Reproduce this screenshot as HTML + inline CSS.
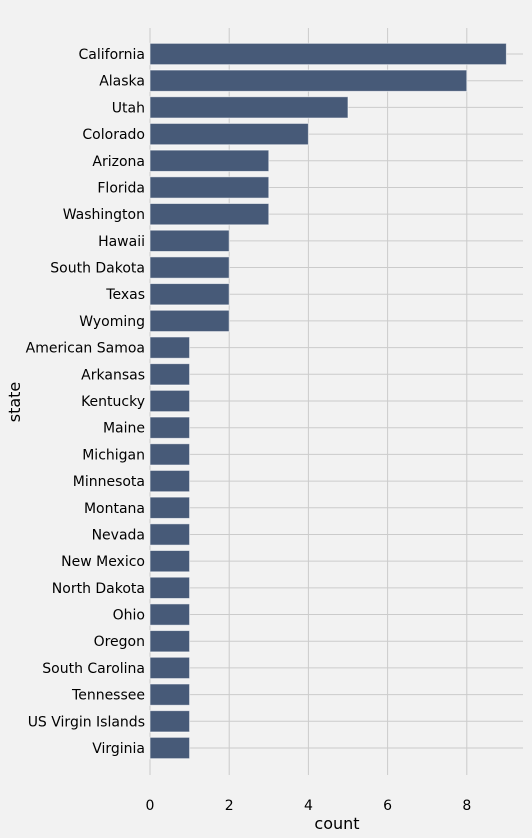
<!DOCTYPE html>
<html><head><meta charset="utf-8"><style>
body{margin:0;background:#f2f2f2;}
svg{display:block;font-family:"DejaVu Sans","Liberation Sans",sans-serif;}
</style></head><body>
<svg id="chart" width="532" height="838" viewBox="0 0 532 838" xmlns="http://www.w3.org/2000/svg">
<rect x="0" y="0" width="532" height="838" fill="#f2f2f2"/>
<g id="grid"></g><g id="bars"></g><g id="ylabels"></g><g id="xlabels"></g>
<text x="337" y="829" font-size="16" text-anchor="middle" fill="#000">count</text>
<text x="20" y="402" font-size="16" text-anchor="middle" fill="#000" transform="rotate(-90 20 402)">state</text>
</svg>
<script>
const categories=["California","Alaska","Utah","Colorado","Arizona","Florida","Washington","Hawaii","South Dakota","Texas","Wyoming","American Samoa","Arkansas","Kentucky","Maine","Michigan","Minnesota","Montana","Nevada","New Mexico","North Dakota","Ohio","Oregon","South Carolina","Tennessee","US Virgin Islands","Virginia"];
const counts=[9,8,5,4,3,3,3,2,2,2,2,1,1,1,1,1,1,1,1,1,1,1,1,1,1,1,1];
const xTicks=[0,2,4,6,8];
const NS="http://www.w3.org/2000/svg";
const x0=150,pxPer=39.6,plotL=150,plotR=523,plotT=28,plotB=775;
const yFirst=54,yLast=748;
const step=(yLast-yFirst)/(categories.length-1);
const xs=v=>x0+v*pxPer;
const ys=i=>yFirst+i*step;
function mk(t,a){const e=document.createElementNS(NS,t);for(const k in a)e.setAttribute(k,a[k]);return e;}
const grid=document.getElementById('grid'),bars=document.getElementById('bars'),yl=document.getElementById('ylabels'),xl=document.getElementById('xlabels');
xTicks.forEach(t=>{
  const l=mk('line',{x1:xs(t),x2:xs(t),y1:plotT,y2:plotB,stroke:'#cbcbcb','stroke-width':1});
  
  
  grid.appendChild(l);
  const tx=mk('text',{x:xs(t),y:810,'font-size':14,'text-anchor':'middle',fill:'#000'});
  tx.textContent=t;
  
  
  xl.appendChild(tx);
});
categories.forEach((c,i)=>{
  const l=mk('line',{x1:plotL,x2:plotR,y1:ys(i),y2:ys(i),stroke:'#cbcbcb','stroke-width':1});
  
  
  grid.appendChild(l);
  const h=step*0.8;
  const r=mk('rect',{x:xs(0),y:ys(i)-h/2,width:xs(counts[i])-xs(0),height:h,fill:'#475a78',stroke:'#ffffff','stroke-opacity':0.6,'stroke-width':1});
  
  
  bars.appendChild(r);
  const tx=mk('text',{x:145,y:ys(i)+5,'font-size':14,'text-anchor':'end',fill:'#000'});
  tx.textContent=c;
  
  
  yl.appendChild(tx);
});
</script>
</body></html>
